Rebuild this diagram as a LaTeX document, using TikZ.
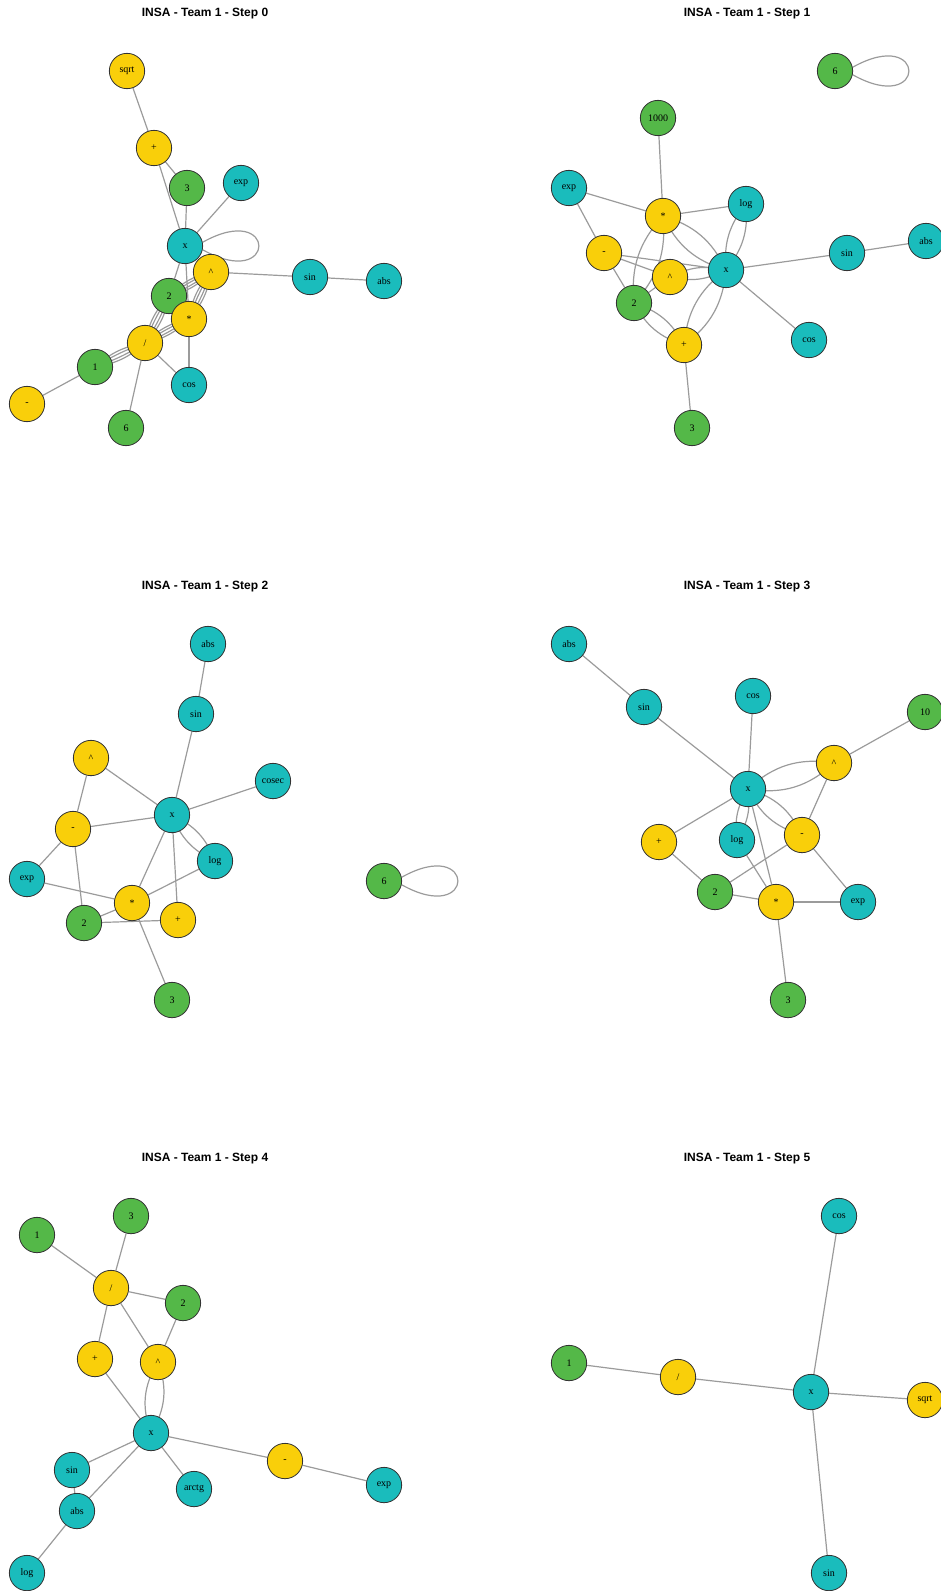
\documentclass[tikz,border=0pt]{standalone}
\usepackage{fontspec}
\setmainfont{Liberation Serif}
\newfontfamily\titlefont{Liberation Sans}
\usepackage{xcolor}
\usepackage{tikz}
\usetikzlibrary{backgrounds}
\definecolor{opyellow}{RGB}{249,207,10}
\definecolor{fnteal}{RGB}{26,188,188}
\definecolor{numgreen}{RGB}{84,184,72}
\definecolor{edgegray}{RGB}{155,155,155}
\newcommand{\pw}{\textasciicircum}

\begin{document}
\begin{tikzpicture}[
    x=0.75pt, y=-0.75pt,
    vert/.style={circle, draw=black!80, line width=0.6pt, minimum size=26.5pt,
                 inner sep=0pt, font=\fontsize{7.5}{9}\selectfont},
    fn/.style={vert, fill=fnteal},
    op/.style={vert, fill=opyellow},
    num/.style={vert, fill=numgreen},
    lnk/.style={draw=edgegray, line width=0.9pt},
    ttl/.style={font=\titlefont\bfseries\fontsize{9}{11}\selectfont},
]
\useasboundingbox (0,0) rectangle (941,1591);

% Step 0
\node[ttl] (t0) at (205,14) {INSA - Team 1 - Step 0};
\node[op] (sqrt0) at (127,71) {sqrt};
\node[op] (plus0) at (154,148) {+};
\node[num] (three0) at (187,188) {3};
\node[fn] (exp0) at (241,183) {exp};
\node[fn] (x0) at (185,246) {x};
\node[op] (pow0) at (211,272) {\pw};
\node[fn] (sin0) at (310,277) {sin};
\node[fn] (abs0) at (384,281) {abs};
\node[num] (two0) at (169,296) {2};
\node[op] (mul0) at (189,319) {*};
\node[op] (div0) at (145,343) {/};
\node[num] (one0) at (95,367) {1};
\node[fn] (cos0) at (189,385) {cos};
\node[op] (minus0) at (27,404) {-};
\node[num] (six0) at (126,428) {6};

% Step 1
\node[ttl] (t1) at (747,14) {INSA - Team 1 - Step 1};
\node[num] (six1) at (835,71) {6};
\node[num] (k1) at (658,118) {1000};
\node[fn] (exp1) at (569,188) {exp};
\node[op] (mul1) at (663,216) {*};
\node[fn] (log1) at (746,204) {log};
\node[op] (minus1) at (604,253) {-};
\node[op] (pow1) at (670,277) {\pw};
\node[fn] (x1) at (726,270) {x};
\node[fn] (sin1) at (847,253) {sin};
\node[fn] (abs1) at (926,241) {abs};
\node[num] (two1) at (634,303) {2};
\node[op] (plus1) at (684,345) {+};
\node[fn] (cos1) at (809,340) {cos};
\node[num] (three1) at (692,428) {3};

% Step 2
\node[ttl] (t2) at (205,587) {INSA - Team 1 - Step 2};
\node[fn] (abs2) at (208,644) {abs};
\node[fn] (sin2) at (196,714) {sin};
\node[op] (pow2) at (91,758) {\pw};
\node[fn] (cosec2) at (273,781) {cosec};
\node[fn] (x2) at (172,815) {x};
\node[op] (minus2) at (73,829) {-};
\node[fn] (log2) at (215,861) {log};
\node[fn] (exp2) at (27,879) {exp};
\node[op] (mul2) at (132,903) {*};
\node[op] (plus2) at (178,920) {+};
\node[num] (two2) at (84,923) {2};
\node[num] (three2) at (172,1000) {3};
\node[num] (six2) at (384,881) {6};

% Step 3
\node[ttl] (t3) at (747,587) {INSA - Team 1 - Step 3};
\node[fn] (abs3) at (569,644) {abs};
\node[fn] (sin3) at (644,707) {sin};
\node[fn] (cos3) at (753,696) {cos};
\node[num] (ten3) at (925,712) {10};
\node[op] (pow3) at (834,763) {\pw};
\node[fn] (x3) at (748,789) {x};
\node[op] (plus3) at (659,842) {+};
\node[fn] (log3) at (737,840) {log};
\node[op] (minus3) at (802,835) {-};
\node[num] (two3) at (715,892) {2};
\node[op] (mul3) at (776,902) {*};
\node[fn] (exp3) at (858,902) {exp};
\node[num] (three3) at (788,1000) {3};

% Step 4
\node[ttl] (t4) at (205,1159) {INSA - Team 1 - Step 4};
\node[num] (one4) at (37,1235) {1};
\node[num] (three4) at (131,1216) {3};
\node[op] (div4) at (111,1288) {/};
\node[num] (two4) at (183,1303) {2};
\node[op] (plus4) at (95,1359) {+};
\node[op] (pow4) at (158,1362) {\pw};
\node[fn] (x4) at (151,1433) {x};
\node[op] (minus4) at (285,1461) {-};
\node[fn] (sin4) at (72,1470) {sin};
\node[fn] (arctg4) at (194,1489) {arctg};
\node[fn] (exp4) at (384,1485) {exp};
\node[fn] (abs4) at (77,1511) {abs};
\node[fn] (log4) at (27,1573) {log};

% Step 5
\node[ttl] (t5) at (747,1159) {INSA - Team 1 - Step 5};
\node[fn] (cos5) at (839,1216) {cos};
\node[num] (one5) at (569,1363) {1};
\node[op] (div5) at (678,1377) {/};
\node[fn] (x5) at (811,1392) {x};
\node[op] (sqrt5) at (925,1400) {sqrt};
\node[fn] (sin5) at (829,1573) {sin};

\begin{scope}[on background layer]
% Step 0
\draw[lnk] (sqrt0) -- (plus0);
\draw[lnk] (plus0) -- (three0);
\draw[lnk] (plus0) -- (x0);
\draw[lnk] (three0) -- (x0);
\draw[lnk] (exp0) -- (x0);
\draw[lnk] (x0.12) .. controls +(75,-42) and +(75,42) .. (x0.-12);
\draw[lnk] (x0) -- (two0);
\draw[lnk] (x0) -- (mul0);
\draw[lnk] (two0.center) to[bend left=6] (pow0.center) (two0.center) to[bend left=16] (pow0.center)
           (two0.center) to[bend right=6] (pow0.center) (two0.center) to[bend right=16] (pow0.center);
\draw[lnk] (pow0.center) to[bend left=6] (mul0.center) (pow0.center) to[bend left=16] (mul0.center)
           (pow0.center) to[bend right=6] (mul0.center) (pow0.center) to[bend right=16] (mul0.center);
\draw[lnk] (two0.center) to[bend left=6] (div0.center) (two0.center) to[bend left=16] (div0.center)
           (two0.center) to[bend right=6] (div0.center) (two0.center) to[bend right=16] (div0.center);
\draw[lnk] (mul0.center) to[bend left=6] (div0.center) (mul0.center) to[bend left=16] (div0.center)
           (mul0.center) to[bend right=6] (div0.center) (mul0.center) to[bend right=16] (div0.center);
\draw[lnk] (div0.center) to[bend left=6] (one0.center) (div0.center) to[bend left=16] (one0.center)
           (div0.center) to[bend right=6] (one0.center) (div0.center) to[bend right=16] (one0.center);
\draw[lnk] (one0) -- (minus0);
\draw[lnk] (div0) -- (six0);
\draw[lnk] (div0) -- (cos0);
\draw[lnk] (mul0) -- (cos0);
\draw[lnk] (pow0) -- (sin0);
\draw[lnk] (sin0) -- (abs0);
% Step 1
\draw[lnk] (six1.12) .. controls +(75,-42) and +(75,42) .. (six1.-12);
\draw[lnk] (k1) -- (mul1);
\draw[lnk] (exp1) -- (mul1);
\draw[lnk] (exp1) -- (minus1);
\draw[lnk] (mul1) -- (log1);
\draw[lnk] (mul1.center) to[bend left=24] (x1.center) (mul1.center) to[bend right=24] (x1.center);
\draw[lnk] (mul1.center) to[bend left=24] (two1.center) (mul1.center) to[bend right=24] (two1.center);
\draw[lnk] (minus1) -- (x1);
\draw[lnk] (minus1) -- (pow1);
\draw[lnk] (minus1) -- (two1);
\draw[lnk] (pow1.center) to[bend left=20] (x1.center) (pow1.center) to[bend right=20] (x1.center);
\draw[lnk] (pow1) -- (two1);
\draw[lnk] (x1.center) to[bend left=22] (log1.center) (x1.center) to[bend right=22] (log1.center);
\draw[lnk] (x1) -- (sin1);
\draw[lnk] (sin1) -- (abs1);
\draw[lnk] (x1) -- (cos1);
\draw[lnk] (x1.center) to[bend left=24] (plus1.center) (x1.center) to[bend right=24] (plus1.center);
\draw[lnk] (two1.center) to[bend left=22] (plus1.center) (two1.center) to[bend right=22] (plus1.center);
\draw[lnk] (plus1) -- (three1);
% Step 2
\draw[lnk] (abs2) -- (sin2);
\draw[lnk] (sin2) -- (x2);
\draw[lnk] (pow2) -- (x2);
\draw[lnk] (pow2) -- (minus2);
\draw[lnk] (cosec2) -- (x2);
\draw[lnk] (x2) -- (minus2);
\draw[lnk] (x2.center) to[bend left=22] (log2.center) (x2.center) to[bend right=22] (log2.center);
\draw[lnk] (x2) -- (mul2);
\draw[lnk] (x2) -- (plus2);
\draw[lnk] (minus2) -- (exp2);
\draw[lnk] (minus2) -- (two2);
\draw[lnk] (exp2) -- (mul2);
\draw[lnk] (mul2) -- (log2);
\draw[lnk] (mul2) -- (two2);
\draw[lnk] (two2) -- (plus2);
\draw[lnk] (mul2) -- (three2);
\draw[lnk] (six2.12) .. controls +(75,-42) and +(75,42) .. (six2.-12);
% Step 3
\draw[lnk] (abs3) -- (sin3);
\draw[lnk] (sin3) -- (x3);
\draw[lnk] (cos3) -- (x3);
\draw[lnk] (ten3) -- (pow3);
\draw[lnk] (x3.center) to[bend left=26] (pow3.center) (x3.center) to[bend right=26] (pow3.center);
\draw[lnk] (x3.center) to[bend left=24] (minus3.center) (x3.center) to[bend right=24] (minus3.center);
\draw[lnk] (x3.center) to[bend left=20] (log3.center) (x3.center) to[bend right=20] (log3.center);
\draw[lnk] (x3) -- (plus3);
\draw[lnk] (x3) -- (mul3);
\draw[lnk] (pow3) -- (minus3);
\draw[lnk] (minus3) -- (two3);
\draw[lnk] (minus3) -- (exp3);
\draw[lnk] (log3) -- (mul3);
\draw[lnk] (plus3) -- (two3);
\draw[lnk] (two3) -- (mul3);
\draw[lnk] (mul3) -- (exp3);
\draw[lnk] (mul3) -- (three3);
% Step 4
\draw[lnk] (one4) -- (div4);
\draw[lnk] (three4) -- (div4);
\draw[lnk] (div4) -- (two4);
\draw[lnk] (div4) -- (plus4);
\draw[lnk] (div4) -- (pow4);
\draw[lnk] (two4) -- (pow4);
\draw[lnk] (plus4) -- (x4);
\draw[lnk] (pow4.center) to[bend left=26] (x4.center) (pow4.center) to[bend right=26] (x4.center);
\draw[lnk] (x4) -- (sin4);
\draw[lnk] (x4) -- (abs4);
\draw[lnk] (x4) -- (arctg4);
\draw[lnk] (x4) -- (minus4);
\draw[lnk] (minus4) -- (exp4);
\draw[lnk] (sin4) -- (abs4);
\draw[lnk] (abs4) -- (log4);
% Step 5
\draw[lnk] (one5) -- (div5);
\draw[lnk] (div5) -- (x5);
\draw[lnk] (x5) -- (cos5);
\draw[lnk] (x5) -- (sqrt5);
\draw[lnk] (x5) -- (sin5);
\end{scope}
\end{tikzpicture}
\end{document}
